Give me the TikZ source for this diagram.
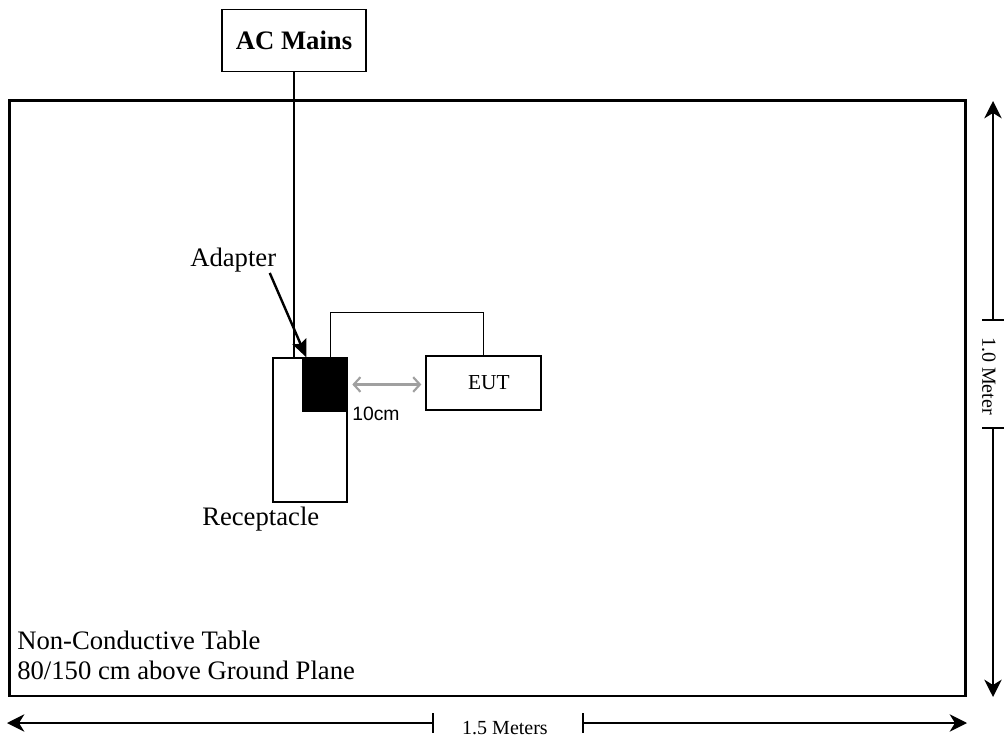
\documentclass[tikz,border=0pt]{standalone}
\usepackage{fontspec}
\setmainfont{Liberation Serif}
\newfontfamily\arialfont{Liberation Sans}
\usetikzlibrary{arrows.meta}

\tikzset{
  unitbox/.style={draw, line width=1pt, inner sep=0pt, fill=white},
  lbl/.style={font=\fontsize{20}{22.5}\selectfont, inner sep=0pt},
  dimtext/.style={font=\fontsize{15}{17}\selectfont, inner sep=0pt},
  dimarrow/.style={line width=1.2pt, -{Stealth[length=13pt,width=13pt,inset=4pt]}},
  dimtick/.style={line width=1.2pt},
  pointer/.style={line width=1.8pt, -{Stealth[length=13pt,width=11pt,inset=2pt]}},
  gaparrow/.style={color={rgb,255:red,160;green,160;blue,160}, line width=1.6pt,
    {Straight Barb[length=5pt,width=11pt]}-{Straight Barb[length=5pt,width=11pt]}},
}

\begin{document}
\begin{tikzpicture}[x=0.75pt,y=0.75pt,yscale=-1,xscale=1]
\useasboundingbox (0,0) rectangle (1004,738);

%Shape: Table
\draw [line width=2.2pt] (9.5,100.5) rectangle (965.5,696) ;

%Shape: AC Mains
\node [unitbox, minimum width=108pt, minimum height=46.5pt, font=\fontsize{20}{22}\selectfont\bfseries] (mains) at (294,40.5) {AC Mains};
%Shape: Receptacle
\node [unitbox, minimum width=55.5pt, minimum height=108pt] (recept) at (310,430) {};
%Shape: Adapter
\node [draw, fill=black, line width=1pt, inner sep=0pt, minimum width=33pt, minimum height=39.75pt] (adapter) at (325,384.5) {};
%Shape: EUT
\node [unitbox, minimum width=86.25pt, minimum height=40.5pt, font=\fontsize{16}{18}\selectfont] (eut) at (483.5,383) {\hspace{8pt}EUT};

%Straight Lines: mains lead
\draw [line width=1pt] (mains.south) -- (mains.south |- recept.north) ;
%Straight Lines: EUT cable
\draw [line width=1pt] ([xshift=4pt]adapter.north) -- ++(0,-45) -| (eut.north) ;
%Straight Lines: 10cm gap
\draw [gaparrow, shorten <=3.5pt, shorten >=3pt] (adapter.east) -- (adapter.east -| eut.west) ;

% Text Node
\node [lbl, anchor=base west] (adlbl) at (190,267) {Adapter};
\draw [pointer] ([xshift=-5pt]adlbl.south east) -- ([xshift=3pt]adapter.north west) ;
% Text Node
\node [lbl, anchor=base west] (reclbl) at (202,525) {Receptacle};
% Text Node
\node [inner sep=0pt, anchor=base west, font=\arialfont\fontsize{14.5}{16}\selectfont] (gaplbl) at (352,420) {10cm};
% Text Node
\node [lbl, anchor=base west, align=left] (tablelbl) at (17,679) {Non-Conductive Table\\80/150 cm above Ground Plane};

%Dimension: 1.0 Meter
\coordinate (vtop) at (993,101);
\coordinate (vbot) at (993,697);
\coordinate (vtick1) at (993,320);
\coordinate (vtick2) at (993,428);
\node [dimtext, rotate=-90] (vlbl) at (989,376) {1.0 Meter};
\draw [dimarrow] (vtick1) -- (vtop) ;
\draw [dimarrow] (vtick2) -- (vbot) ;
\draw [dimtick] ([xshift=-8pt]vtick1) -- ([xshift=8pt]vtick1) ;
\draw [dimtick] ([xshift=-8pt]vtick2) -- ([xshift=8pt]vtick2) ;

%Dimension: 1.5 Meters
\coordinate (hleft) at (7,723);
\coordinate (hright) at (967,723);
\coordinate (htick1) at (433,723);
\coordinate (htick2) at (583,723);
\node [dimtext, anchor=base] (hlbl) at (505,734) {1.5 Meters};
\draw [dimarrow] (htick1) -- (hleft) ;
\draw [dimarrow] (htick2) -- (hright) ;
\draw [dimtick] ([yshift=-7.5pt]htick1) -- ([yshift=7.5pt]htick1) ;
\draw [dimtick] ([yshift=-7.5pt]htick2) -- ([yshift=7.5pt]htick2) ;

\end{tikzpicture}
\end{document}
